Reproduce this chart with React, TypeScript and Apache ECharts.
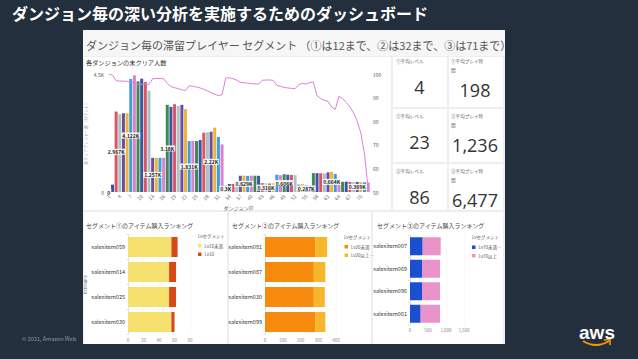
import React, { useEffect, useRef } from "react";
import * as echarts from "echarts";

const pageTitle = "ダンジョン毎の深い分析を実施するためのダッシュボード";
const dashTitle = "ダンジョン毎の滞留プレイヤー セグメント （①は12まで、②は32まで、③は71まで）";
const barChartTitle = "各ダンジョンの未クリア人数";
const copyright = "© 2021, Amazon Web";

const dungeonIds = [
  "1", "2", "3", "4", "5", "6", "7", "8", "9", "10", "11", "12",
  "13", "14", "15", "16", "17", "18", "19", "20", "21", "22", "23", "24",
  "25", "26", "27", "28", "29", "30", "31", "32", "33", "34", "35", "36",
  "37", "38", "39", "40", "41", "42", "43", "44", "45", "46", "47", "48",
  "49", "50", "51", "52", "53", "54", "55", "56", "57", "58", "59", "60",
  "61", "62", "63", "64", "65", "66", "67", "68", "69", "70", "71", "72",
];
const unclearedPlayers = [
  0, 281, 3068, 2966, 3004, 3004, 4308, 4449, 4219, 4321, 4193, 3861,
  1304, 1304, 1304, 1304, 3324, 3247, 3349, 3286, 3324, 3158, 1943, 1943,
  1943, 1982, 2263, 2276, 2301, 2455, 2097, 1815, 241, 305, 305, 300,
  620, 622, 615, 625, 620, 618, 340, 330, 320, 330, 660, 640,
  680, 660, 650, 640, 280, 300, 270, 250, 720, 720, 715, 710,
  750, 770, 690, 470, 390, 395, 380, 370, 385, 375, 370, 365,
];
const remainRate = [
  100, 99.5, 97.2, 97, 97, 96.9, 96.6, 96.4, 95.7, 95.7, 95.7, 95.6,
  98, 98.1, 98.1, 98, 96, 94.7, 94.2, 93.8, 93.3, 93, 95, 94.8,
  94.5, 94.1, 93.5, 92.8, 92.1, 91.4, 90.8, 91.2, 98.3, 98.4, 98, 97.4,
  96.5, 96.3, 96.1, 96, 95.8, 95.7, 97.4, 97.4, 97.5, 97.3, 95.2, 94.8,
  94.3, 94.1, 93.9, 93.8, 95.5, 96, 95.7, 96.4, 96.6, 90.8, 89.6, 88.8,
  88.4, 86, 85, 90.6, 89.5, 88, 86, 83.5, 80, 75, 66, 51.5,
];
const labeledIds = ["1", "3", "7", "13", "17", "23", "29", "33", "38", "44", "49", "55", "62", "69"];
const labelTexts = ["0", "2.967K", "4.122K", "1.257K", "3.18K", "1.831K", "2.22K", "0.3K", "0.629K", "0.316K", "0.606K", "0.287K", "0.664K", "0.369K"];

const kpiLevelLabels = ["①平均レベル", "②平均レベル", "③平均レベル"];
const kpiTimeLabels = ["①平均プレイ時\n間", "②平均プレイ時\n間", "③平均プレイ時\n間"];
const kpiLevels = [4, 23, 86];
const kpiPlayTimes = [198, 1236, 6477];

const segTitles = [
  "セグメント①のアイテム購入ランキング",
  "セグメント②のアイテム購入ランキング",
  "セグメント③のアイテム購入ランキング",
];
const seg1Items = ["salesitem059", "salesitem014", "salesitem025", "salesitem030"];
const seg1Low = [56, 53, 53, 56];
const seg1High = [8, 9, 9, 4];
const seg1Names = ["Lv10未満", "Lv10"];
const seg2Items = ["salesitem081", "salesitem087", "salesitem030", "salesitem099"];
const seg2Low = [285, 275, 275, 285];
const seg2High = [65, 65, 62, 55];
const seg2Names = ["Lv20未満", "Lv20以上…"];
const seg3Items = ["salesitem007", "salesitem069", "salesitem096", "salesitem061"];
const seg3Low = [352, 333, 333, 296];
const seg3High = [500, 500, 500, 537];
const seg3Names = ["Lv70未満…", "Lv70以上"];

const BG = "#242f3e";
const JP = '"Noto Sans CJK JP", "Noto Sans", sans-serif';
const palette = ["#3b9fdc", "#de7fd2", "#3d8b4f", "#3c55a2", "#dc5566", "#a6c6c4", "#6e4d9f", "#eeb33b"];

function hbar(gridIndex: number, yIndex: number, items: string[], low: number[], high: number[], names: string[], colors: string[], max: number, interval: number, grid: any, legendPos: { left: number; top: number }, showName: boolean) {
  return {
    grid: { ...grid, containLabel: false },
    xAxis: {
      type: "value", gridIndex, min: 0, max, interval,
      axisLabel: { fontSize: 4.5, color: "#888", margin: 3, fontFamily: JP, formatter: (v: number) => v.toLocaleString("en-US") },
      axisLine: { show: false }, axisTick: { show: false },
      splitLine: { show: true, lineStyle: { color: "#f0f0f0", width: 0.5 } },
    },
    yAxis: {
      type: "category", gridIndex, data: items, inverse: true,
      name: showName ? "itemname" : "", nameLocation: "middle", nameGap: 38, nameRotate: 90,
      nameTextStyle: { fontSize: 4, color: "#666", fontFamily: JP },
      axisLabel: { fontSize: 5.5, color: "#333", margin: 3, fontFamily: JP },
      axisLine: { show: true, lineStyle: { color: "#ccc", width: 0.5 } },
      axisTick: { show: true, length: 2, lineStyle: { color: "#ccc", width: 0.5 } },
    },
    series: [
      { type: "bar", name: names[0], xAxisIndex: gridIndex, yAxisIndex: yIndex, stack: "s" + gridIndex, data: low, barCategoryGap: "20%", itemStyle: { color: colors[0] } },
      { type: "bar", name: names[1], xAxisIndex: gridIndex, yAxisIndex: yIndex, stack: "s" + gridIndex, data: high, barCategoryGap: "20%", itemStyle: { color: colors[1] } },
    ],
    legend: {
      data: names, orient: "vertical", left: legendPos.left, top: legendPos.top,
      itemWidth: 3.5, itemHeight: 3.5, itemGap: 4, icon: "rect", padding: 0,
      textStyle: { fontSize: 4.5, color: "#555", fontFamily: JP, padding: [0, 0, 0, -2] },
    },
  };
}

export default function App() {
  const ref = useRef<HTMLDivElement>(null);
  useEffect(() => {
    document.body.style.margin = "0";
    const chart = echarts.init(ref.current!, undefined, { renderer: "svg" });

    const barData = unclearedPlayers.map((v, i) => {
      const k = labeledIds.indexOf(dungeonIds[i]);
      const color = palette[(i + 2) % palette.length];
      if (k >= 0) {
        return {
          value: v,
          itemStyle: { color },
          label: {
            show: true, position: "inside", formatter: labelTexts[k],
            fontSize: 5, fontWeight: "bold", color: "#222", fontFamily: JP,
            backgroundColor: "rgba(255,255,255,0.9)", padding: [1, 1, 0, 1],
          },
        };
      }
      return { value: v, itemStyle: { color } };
    });

    const A = hbar(1, 2, seg1Items, seg1Low, seg1High, seg1Names, ["#f6e06e", "#d64a1a"], 80, 20,
      { left: 128, width: 62, top: 234.5, height: 100 }, { left: 198, top: 243.5 }, true);
    const B = hbar(2, 3, seg2Items, seg2Low, seg2High, seg2Names, ["#f78b0d", "#f8b62d"], 400, 100,
      { left: 265, width: 71, top: 234.5, height: 100 }, { left: 344.5, top: 244.5 }, false);
    const C = hbar(3, 4, seg3Items, seg3Low, seg3High, seg3Names, ["#1b4fd1", "#ea93cb"], 1500, 500,
      { left: 410, width: 54, top: 235, height: 90 }, { left: 472, top: 245 }, false);

    const graphic: any[] = [
      { type: "text", x: 22, y: 339, style: { text: copyright, fill: "#8d97a3", fontSize: 5.5, fontFamily: JP, verticalAlign: "middle" } },
      { type: "text", x: 12, y: 13, style: { text: pageTitle, fill: "#ffffff", fontSize: 16, fontWeight: "bold", fontFamily: JP, verticalAlign: "middle" } },
      { type: "rect", shape: { x: 83, y: 30, width: 422, height: 314 }, style: { fill: "#eeeeee" } },
      { type: "rect", shape: { x: 83, y: 30, width: 422, height: 26 }, style: { fill: "#f6f6f6" } },
      { type: "text", x: 86, y: 45, style: { text: dashTitle, fill: "#555", fontSize: 11, fontFamily: JP, verticalAlign: "middle" } },
      { type: "rect", shape: { x: 505, y: 30, width: 133, height: 28 }, style: { fill: BG } },
      { type: "rect", shape: { x: 84, y: 57, width: 307, height: 153 }, style: { fill: "#fff" } },
      { type: "text", x: 86, y: 62, style: { text: barChartTitle, fill: "#333", fontSize: 6.2, fontFamily: JP, verticalAlign: "middle" } },
      { type: "rect", shape: { x: 84, y: 212, width: 143, height: 132 }, style: { fill: "#fff" } },
      { type: "rect", shape: { x: 229, y: 212, width: 142, height: 132 }, style: { fill: "#fff" } },
      { type: "rect", shape: { x: 373, y: 212, width: 130, height: 132 }, style: { fill: "#fff" } },
      { type: "text", x: 86, y: 225, style: { text: segTitles[0], fill: "#444", fontSize: 6, fontFamily: JP, verticalAlign: "middle" } },
      { type: "text", x: 232, y: 225, style: { text: segTitles[1], fill: "#444", fontSize: 6, fontFamily: JP, verticalAlign: "middle" } },
      { type: "text", x: 377, y: 225, style: { text: segTitles[2], fill: "#444", fontSize: 6, fontFamily: JP, verticalAlign: "middle" } },
      { type: "text", x: 198, y: 236, style: { text: "Lvセグメント", fill: "#555", fontSize: 4.5, fontFamily: JP, verticalAlign: "middle" } },
      { type: "text", x: 344, y: 236.5, style: { text: "Lvセグメント", fill: "#555", fontSize: 4.5, fontFamily: JP, verticalAlign: "middle" } },
      { type: "text", x: 472, y: 237, style: { text: "Lvセグメント", fill: "#555", fontSize: 4.5, fontFamily: JP, verticalAlign: "middle" } },
      { type: "text", x: 597, y: 332, style: { text: "aws", fill: "#ffffff", fontSize: 19, fontWeight: "bold", fontFamily: '"Liberation Sans", Arial, sans-serif', align: "center", verticalAlign: "middle" } },
      { type: "bezierCurve", shape: { x1: 583, y1: 341, x2: 609, y2: 341, cpx1: 596, cpy1: 349 }, style: { stroke: "#ff9900", lineWidth: 2, fill: null } },
      { type: "polyline", shape: { points: [[604, 340], [610, 339.5], [610, 345]] }, style: { stroke: "#ff9900", lineWidth: 1.6, fill: null } },
    ];

    const kpiTops = [57, 109, 164];
    const kpiBottoms = [107, 162, 210];
    const labelYs = [61, 116, 171];
    kpiLevels.forEach((lv, r) => {
      const top = kpiTops[r];
      const h = kpiBottoms[r] - top;
      graphic.push({ type: "rect", shape: { x: 393, y: top, width: 54, height: h }, style: { fill: "#fff" } });
      graphic.push({ type: "rect", shape: { x: 449, y: top, width: 54, height: h }, style: { fill: "#fff" } });
      graphic.push({ type: "text", x: 396, y: labelYs[r], style: { text: kpiLevelLabels[r], fill: "#666", fontSize: 4.6, fontFamily: JP, verticalAlign: "middle" } });
      graphic.push({ type: "text", x: 451, y: labelYs[r] - 4.5, style: { text: kpiTimeLabels[r], fill: "#666", fontSize: 4.6, lineHeight: 9, fontFamily: JP, verticalAlign: "top" } });
      graphic.push({ type: "text", x: 419.5, y: labelYs[r] + 26.3, style: { text: String(lv), fill: "#333", fontSize: 18, fontFamily: '"Open Sans", "Noto Sans", sans-serif', align: "center", verticalAlign: "middle" } });
      graphic.push({ type: "text", x: 475, y: labelYs[r] + 29, style: { text: kpiPlayTimes[r].toLocaleString("en-US"), fill: "#333", fontSize: 18, fontFamily: '"Open Sans", "Noto Sans", sans-serif', align: "center", verticalAlign: "middle" } });
    });

    chart.setOption({
      animation: false,
      backgroundColor: BG,
      graphic,
      grid: [
        { left: 107, width: 263, top: 74, height: 118 },
        A.grid, B.grid, C.grid,
      ],
      legend: [A.legend, B.legend, C.legend],
      xAxis: [
        {
          type: "category", gridIndex: 0, data: dungeonIds,
          name: "ダンジョンID", nameLocation: "middle", nameGap: 13,
          nameTextStyle: { fontSize: 5, color: "#666", fontFamily: JP },
          axisLabel: { interval: 2, rotate: 45, fontSize: 5, color: "#666", margin: 3, fontFamily: JP },
          axisLine: { show: false }, axisTick: { show: false },
        },
        A.xAxis, B.xAxis, C.xAxis,
      ],
      yAxis: [
        {
          type: "value", gridIndex: 0, min: 0, max: 4500, interval: 4500,
          name: "未クリアプレイヤー数（カウント）", nameLocation: "middle", nameGap: 19, nameRotate: 90,
          nameTextStyle: { fontSize: 4, color: "#999", fontFamily: JP },
          axisLabel: { fontSize: 5, color: "#555", margin: 3, fontFamily: JP, formatter: (v: number) => (v === 0 ? "0" : v / 1000 + "K") },
          axisLine: { show: false }, axisTick: { show: false }, splitLine: { show: false },
        },
        {
          type: "value", gridIndex: 0, min: 50, max: 100, interval: 10, position: "right",
          axisLabel: { fontSize: 5, color: "#555", margin: 3, fontFamily: JP },
          axisLine: { show: false }, axisTick: { show: false }, splitLine: { show: false },
        },
        A.yAxis, B.yAxis, C.yAxis,
      ],
      series: [
        {
          type: "bar", name: "未クリア人数", xAxisIndex: 0, yAxisIndex: 0,
          data: barData, barCategoryGap: "18%",
        },
        {
          type: "line", name: "残存率", xAxisIndex: 0, yAxisIndex: 1, data: remainRate,
          symbol: "none", lineStyle: { color: "#dd80d6", width: 1 }, itemStyle: { color: "#dd80d6" },
        },
        ...A.series, ...B.series, ...C.series,
      ],
    });
    return () => chart.dispose();
  }, []);
  return <div ref={ref} style={{ position: "fixed", left: 0, top: 0, width: 638, height: 359 }} />;
}
